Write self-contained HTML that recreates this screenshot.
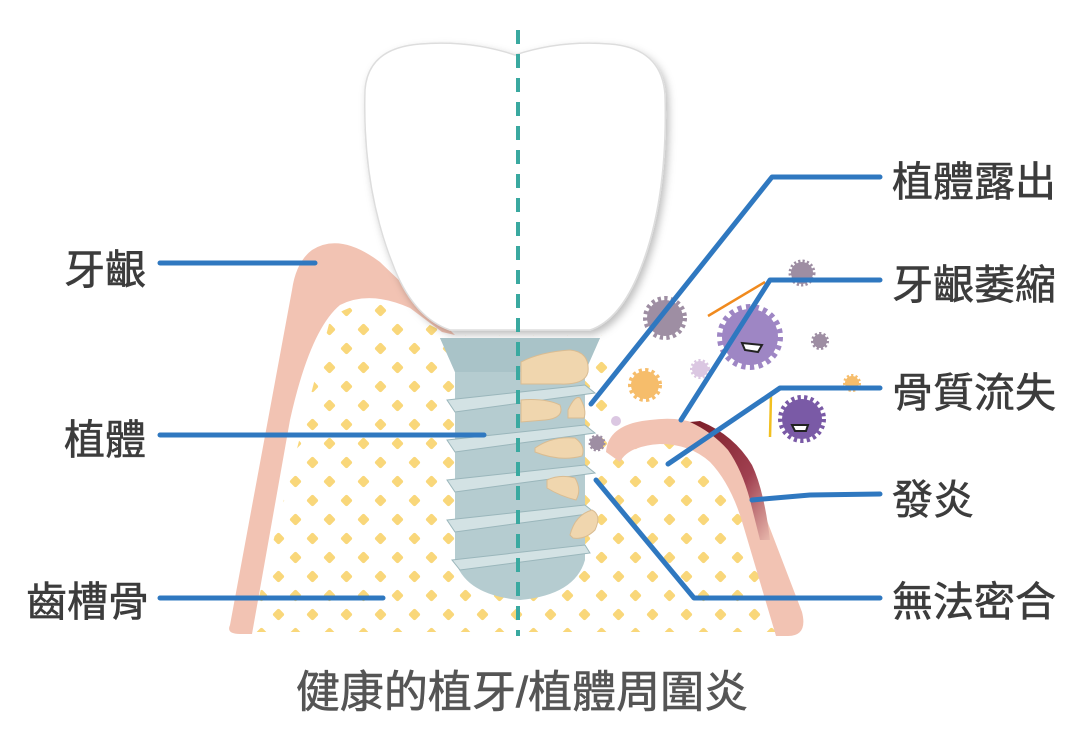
<!DOCTYPE html>
<html><head><meta charset="utf-8"><style>
html,body{margin:0;padding:0;background:#fff;width:1080px;height:742px;overflow:hidden}
text{font-family:"Liberation Sans","Noto Sans CJK TC",sans-serif}
</style></head><body>
<svg width="1080" height="742" viewBox="0 0 1080 742" xmlns="http://www.w3.org/2000/svg">
<defs>
<pattern id="dots" width="34" height="38" patternUnits="userSpaceOnUse">
<rect x="2" y="2" width="9" height="9" rx="2" fill="#f9d77a" transform="rotate(45 6.5 6.5)"/>
<rect x="19" y="21" width="9" height="9" rx="2" fill="#f9d77a" transform="rotate(45 23.5 25.5)"/>
</pattern>
<linearGradient id="inf" x1="0" y1="0" x2="1" y2="1">
<stop offset="0" stop-color="#7a1c26"/><stop offset="0.6" stop-color="#a04050"/><stop offset="1" stop-color="#e8b8ac"/>
</linearGradient>
<filter id="sh" x="-10%" y="-10%" width="130%" height="130%"><feDropShadow dx="3" dy="4" stdDeviation="4" flood-color="#000" flood-opacity="0.25"/></filter>
</defs>
<path d="M250,632 L330,320 Q350,300 390,305 L450,335 L450,632 Z" fill="url(#dots)"/>
<path d="M600,632 L605,470 Q620,440 660,435 Q700,435 720,455 L750,520 L780,632 Z" fill="url(#dots)"/>
<rect x="450" y="335" width="160" height="297" fill="url(#dots)"/>
<path d="M230,625 Q226,634 240,634 L252,634 L290,420 Q310,330 340,305 Q370,290 410,308 L442,332 L455,335 Q420,300 380,262 Q340,232 312,250 Q296,262 292,290 Z" fill="#f2c3b3"/>
<path d="M606,452 Q608,424 650,420 Q692,414 718,436 Q748,462 766,518 L802,612 Q808,636 788,636 L776,636 L744,528 Q732,485 710,462 Q690,444 660,444 Q628,446 620,462 Z" fill="#f2c3b3"/>
<path d="M690,422 Q712,432 728,450 Q742,470 750,500 L760,540 L770,540 Q764,490 752,465 Q734,435 700,421 Z" fill="url(#inf)"/>
<path d="M365,90 Q368,48 420,44 Q470,40 515,55 Q560,40 610,44 Q662,48 665,95 Q668,200 640,270 Q620,320 590,330 L450,330 Q415,318 395,270 Q362,190 365,90 Z" fill="#fff" stroke="#ddd" stroke-width="1.5" filter="url(#sh)"/>
<path d="M440,338 L600,338 L585,372 L585,560 Q575,595 520,600 Q465,595 455,560 L455,372 Z" fill="#b5ccd0"/>
<path d="M440,338 L600,338 L585,372 L455,372 Z" fill="#a9c3c8"/>
<g fill="#d3e2e4" stroke="#9ab6bb" stroke-width="1">
<path d="M447,400 L585,385 L595,393 L455,412 Z"/>
<path d="M447,440 L585,425 L595,433 L455,452 Z"/>
<path d="M447,480 L585,465 L595,473 L455,492 Z"/>
<path d="M447,520 L585,505 L595,513 L455,532 Z"/>
<path d="M452,560 L585,545 L590,553 L460,570 Z"/>
</g>
<g fill="#f0d6ae" stroke="#d9bc92" stroke-width="1">
<path d="M521,362 Q540,352 570,350 Q590,352 588,372 Q585,385 560,384 L521,384 Z"/>
<path d="M521,400 Q545,398 560,405 Q565,418 545,420 L521,422 Z"/>
<path d="M568,410 Q575,395 580,398 Q587,410 584,418 L568,418 Z"/>
<path d="M535,448 Q552,436 575,438 Q586,446 582,456 Q560,462 535,452 Z"/>
<path d="M547,480 Q560,474 575,478 Q582,490 576,500 Q560,496 547,488 Z"/>
<path d="M570,535 Q575,515 592,510 Q602,515 595,530 Q585,540 573,538 Z"/>
</g>
<line x1="518" y1="30" x2="518" y2="636" stroke="#3aa9a0" stroke-width="4" stroke-dasharray="14,10"/>
<g>
<circle cx="665" cy="318" r="18" fill="#9e8ea3" stroke="#9e8ea3" stroke-width="8" stroke-dasharray="3,3"/>
<circle cx="645" cy="385" r="14" fill="#f6bd6b" stroke="#f6bd6b" stroke-width="6" stroke-dasharray="3,3"/>
<circle cx="700" cy="369" r="8" fill="#dbc7e2" stroke="#dbc7e2" stroke-width="4" stroke-dasharray="2,2"/>
<circle cx="802" cy="273" r="11" fill="#9e8ea3" stroke="#9e8ea3" stroke-width="5" stroke-dasharray="2,2"/>
<circle cx="820" cy="341" r="7" fill="#9e8ea3" stroke="#9e8ea3" stroke-width="4" stroke-dasharray="2,2"/>
<circle cx="852" cy="383" r="7" fill="#f6bd6b" stroke="#f6bd6b" stroke-width="4" stroke-dasharray="2,2"/>
<circle cx="616" cy="421" r="5" fill="#dbc7e2"/>
<circle cx="597" cy="443" r="7" fill="#9e8ea3" stroke="#9e8ea3" stroke-width="3" stroke-dasharray="2,2"/>
<circle cx="750" cy="337" r="28" fill="#9e86c4" stroke="#9e86c4" stroke-width="10" stroke-dasharray="4,4"/>
<circle cx="802" cy="419" r="20" fill="#7a5aa6" stroke="#7a5aa6" stroke-width="8" stroke-dasharray="3,3"/>
<path d="M742,343 L762,345 L758,352 L745,350 Z" fill="#fff" stroke="#222" stroke-width="2"/>
<path d="M792,425 L808,425 L806,431 L795,431 Z" fill="#fff" stroke="#222" stroke-width="2"/>
<line x1="708" y1="316" x2="765" y2="282" stroke="#f08a1e" stroke-width="2.5"/>
<line x1="771" y1="395" x2="770" y2="437" stroke="#f2c020" stroke-width="2.5"/>
</g>
<g stroke="#2f78c0" stroke-width="5" fill="none" stroke-linecap="round" stroke-linejoin="round">
<path d="M160,263 L315,263"/>
<path d="M160,435 L484,435"/>
<path d="M160,598 L383,598"/>
<path d="M880,177 L772,177 L591,404"/>
<path d="M880,280 L770,280 L681,420"/>
<path d="M880,388 L780,388 L668,464"/>
<path d="M880,494 L810,495 L752,500"/>
<path d="M880,598 L694,598 L596,480"/>
</g>
<g font-size="41" fill="#3c3c3c" stroke="#3c3c3c" stroke-width="0.6">
<text x="64" y="284">牙齦</text>
<text x="64" y="454">植體</text>
<text x="26" y="616">齒槽骨</text>
<text x="892" y="196">植體露出</text>
<text x="892" y="299">牙齦萎縮</text>
<text x="892" y="407">骨質流失</text>
<text x="892" y="514">發炎</text>
<text x="892" y="616">無法密合</text>
</g>
<text x="522" y="707" font-size="44" fill="#555" stroke="#555" stroke-width="0.6" text-anchor="middle">健康的植牙/植體周圍炎</text>
</svg>
</body></html>
